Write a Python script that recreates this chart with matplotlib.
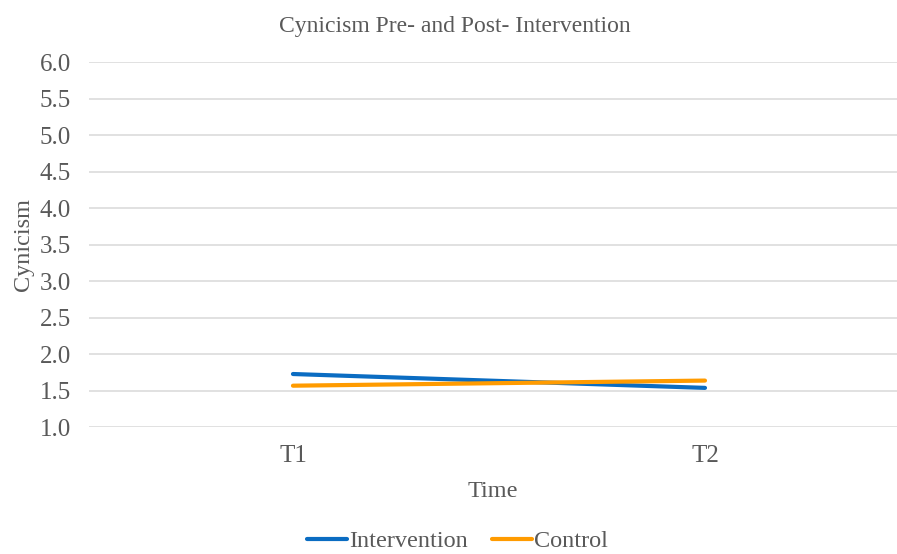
import matplotlib.pyplot as plt

# Mean cynicism scores at each time point
times = ["T1", "T2"]
intervention = [1.73, 1.54]
control = [1.57, 1.64]
y_ticks = [1.0, 1.5, 2.0, 2.5, 3.0, 3.5, 4.0, 4.5, 5.0, 5.5, 6.0]

C_INT = "#0A6CC2"
C_CTL = "#FF9B00"
C_TXT = "#595959"
C_GRID = "#D9D9D9"

plt.rcParams["font.family"] = ["Liberation Serif", "DejaVu Serif"]

fig = plt.figure(figsize=(8.97, 5.54), dpi=100)
ax = fig.add_axes([89 / 897, 0.2287, 1 - 89 / 897, 0.6588])

x = list(range(len(times)))
ax.plot(x, intervention, color=C_INT, lw=3, solid_capstyle="round", label="Intervention", zorder=3)
ax.plot(x, control, color=C_CTL, lw=3, solid_capstyle="round", label="Control", zorder=4)

ax.set_xlim(-0.495, 1.466)
ax.set_ylim(1.0, 6.0)
ax.set_yticks(y_ticks)
ax.set_yticklabels([f"{v:.1f}" for v in y_ticks])
ax.set_xticks(x)
ax.set_xticklabels(times)
ax.tick_params(length=0, labelsize=18, colors=C_TXT)
ax.tick_params(axis="y", pad=13)
ax.tick_params(axis="x", pad=13)

ax.grid(axis="y", color=C_GRID, lw=1.1)
ax.set_axisbelow(True)
for s in ax.spines.values():
    s.set_visible(False)

ax.set_xlabel("Time", fontsize=17.5, color=C_TXT, labelpad=10)
ax.set_ylabel("Cynicism", fontsize=17.5, color=C_TXT, labelpad=4)
fig.text(0.507, 0.953, "Cynicism Pre- and Post- Intervention", ha="center", va="center",
         fontsize=17, color=C_TXT)

leg = fig.legend(loc="lower center", bbox_to_anchor=(0.51, -0.019), ncol=2, frameon=False,
                 fontsize=17.5, handlelength=1.65, handletextpad=0.08, columnspacing=1.0,
                 borderpad=0.0)
for t in leg.get_texts():
    t.set_color(C_TXT)

fig.savefig("out.png", dpi=100)
